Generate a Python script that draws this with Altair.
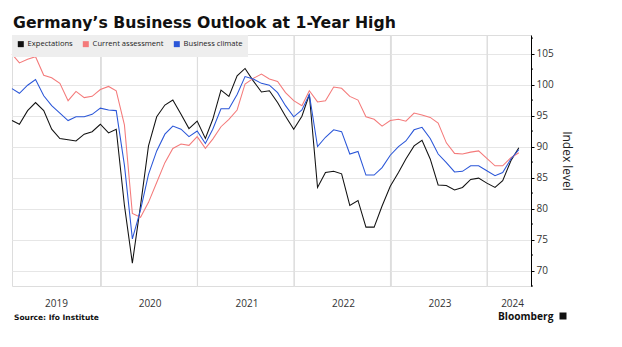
import altair as alt
import pandas as pd

# ---------------- data ----------------
months = pd.date_range("2019-01-31", periods=64, freq="ME").strftime("%Y-%m-%d").tolist()

expectations = [
    94.2, 93.6, 95.8, 97.1, 95.8, 92.8, 91.3, 91.1, 90.9, 92.0, 92.4, 93.6,
    92.2, 92.8, 80.5, 71.2, 80.5, 90.1, 94.8, 96.7, 97.5, 95.2, 92.9, 94.1,
    91.3, 94.4, 99.1, 98.1, 101.4, 102.6, 100.6, 98.8, 99.0, 97.1, 94.9, 92.8,
    94.9, 98.4, 83.4, 85.8, 86.0, 85.6, 80.5, 81.3, 77.0, 77.0, 80.4, 83.6,
    85.8, 88.0, 90.1, 91.0, 88.0, 83.8, 83.7, 83.0, 83.4, 84.7, 84.9, 84.1,
    83.4, 84.5, 87.7, 89.8,
]
current = [
    104.9, 103.5, 104.1, 104.5, 101.5, 101.1, 100.2, 97.4, 98.9, 97.9, 98.1, 99.2,
    99.7, 99.0, 93.5, 79.2, 78.6, 81.0, 84.2, 87.4, 89.7, 90.4, 90.2, 91.6,
    89.7, 91.2, 93.2, 94.4, 95.9, 100.1, 101.0, 101.7, 100.9, 100.5, 98.7, 97.4,
    96.6, 99.0, 97.2, 97.4, 99.6, 99.4, 98.1, 97.5, 94.8, 94.4, 93.3, 94.2,
    94.4, 94.1, 95.4, 95.1, 94.7, 93.8, 90.6, 88.9, 88.8, 89.1, 89.3, 88.1,
    86.9, 86.9, 88.2, 89.0,
]
climate = [
    99.35, 98.6, 99.9, 100.8, 98.2, 96.6, 95.4, 94.2, 94.8, 94.8, 95.2, 96.2,
    95.9, 95.8, 87.0, 75.1, 79.8, 85.5, 89.3, 92.0, 93.3, 92.8, 91.6, 92.5,
    90.5, 92.8, 96.1, 96.1, 98.4, 101.3, 100.9, 100.2, 99.9, 98.7, 96.6, 94.8,
    95.9, 98.4, 90.0, 91.5, 92.7, 92.4, 88.8, 89.2, 85.4, 85.4, 86.6, 88.6,
    90.0, 90.9, 92.7, 93.1, 91.3, 88.8, 87.4, 85.9, 86.0, 86.9, 86.9, 86.1,
    85.3, 85.8, 88.0, 89.5,
]

series_names = ["Expectations", "Current assessment", "Business climate"]
series_colors = ["#111111", "#f47a7a", "#2a56d8"]

# x ticks: first is the start of the visible range (label only), the rest are year starts
x_ticks = [(2019, 1, 31), (2020, 1, 1), (2021, 1, 1), (2022, 1, 1), (2023, 1, 1), (2024, 1, 1)]
year_starts = ["2020-01-01", "2021-01-01", "2022-01-01", "2023-01-01", "2024-01-01"]
y_ticks = [70, 75, 80, 85, 90, 95, 100, 105]
y_minor = [67.5, 72.5, 77.5, 82.5, 87.5, 92.5, 97.5, 102.5, 107.5]

title_text = "Germany\u2019s Business Outlook at 1-Year High"
source_text = "Source: Ifo Institute"
brand_text = "Bloomberg"

# ---------------- tables ----------------
df = pd.DataFrame({"date": months, "Expectations": expectations,
                   "Current assessment": current, "Business climate": climate})
long = df.melt("date", var_name="series", value_name="value")
long["order"] = long["series"].map({s: i for i, s in enumerate(series_names)})

W, H = 519, 251

xscale = alt.Scale(type="utc",
                   domain=[alt.DateTime(year=2019, month=1, date=31, utc=True),
                           alt.DateTime(year=2024, month=6, date=15, utc=True)])
xaxis = alt.Axis(
    values=[alt.DateTime(year=y, month=m, date=d, utc=True) for y, m, d in x_ticks],
    labelExpr="utcFormat(datum.value, '%Y')",
    grid=True, gridWidth=1,
    gridColor={"condition": {"test": "utcyear(datum.value) == 2019", "value": "transparent"},
               "value": "#e2e2e2"},
    labelOffset={"condition": [{"test": "utcyear(datum.value) == 2019", "value": 44},
                               {"test": "utcyear(datum.value) == 2024", "value": 25}],
                 "value": 49},
    labelFlush=False, labelOverlap=False, labelBound=False,
    ticks=False, domain=False,
    labelPadding=12, title=None, labelFontSize=10, labelColor="#333333",
    labelFont="Open Sans",
)

yscale = alt.Scale(domain=[67.5, 108], nice=False, zero=False)
yaxis = alt.Axis(orient="right", values=y_ticks, grid=True, gridColor="#e6e6e6",
                 domainColor="#000000", tickColor="#000000", tickSize=3,
                 labelPadding=2, labelFontSize=10, labelColor="#333333",
                 labelFont="Open Sans", title="Index level", titleFontSize=12,
                 titleFontWeight="normal", titleFont="Open Sans", titleColor="#222222",
                 titlePadding=6)

grid_v = alt.Chart(pd.DataFrame({"d": year_starts})).mark_rule(
    color="#dddddd", strokeWidth=1.2
).encode(
    x=alt.X("d:T", scale=xscale, axis=xaxis),
    y=alt.value(0), y2=alt.value(H),
)

lines = alt.Chart(long).mark_line(strokeWidth=1.05).encode(
    x=alt.X("date:T", scale=xscale, axis=xaxis),
    y=alt.Y("value:Q", scale=yscale, axis=yaxis),
    color=alt.Color(
        "series:N",
        scale=alt.Scale(domain=series_names, range=series_colors),
        legend=alt.Legend(
            orient="none", legendX=0, legendY=0, direction="horizontal", title=None,
            fillColor="#eeeeee", padding=5, symbolType="square", symbolSize=9,
            symbolStrokeWidth=3,
            labelFontSize=7.6, labelFont="Open Sans", labelColor="#222222",
            labelOffset=3, columnPadding=5,
        ),
    ),
    order=alt.Order("order:Q"),
)

minor = alt.Chart(pd.DataFrame({"v": y_minor})).mark_rule(color="#000000", strokeWidth=1).encode(
    y=alt.Y("v:Q", scale=yscale, axis=yaxis),
    x=alt.value(W), x2=alt.value(W + 2),
)

title = alt.Chart(pd.DataFrame({"t": [title_text]})).mark_text(
    align="left", baseline="alphabetic", font="DejaVu Sans", fontWeight="bold",
    fontSize=15.7, color="#111111"
).encode(text="t:N", x=alt.value(1), y=alt.value(-7))

source = alt.Chart(pd.DataFrame({"t": [source_text]})).mark_text(
    align="left", baseline="alphabetic", font="DejaVu Sans", fontWeight="bold",
    fontSize=7.5, color="#111111"
).encode(text="t:N", x=alt.value(2), y=alt.value(285))

brand = alt.Chart(pd.DataFrame({"t": [brand_text]})).mark_text(
    align="left", baseline="alphabetic", font="Open Sans", fontWeight="bold",
    fontSize=10.2, color="#111111"
).encode(text="t:N", x=alt.value(486), y=alt.value(285))

logo = alt.Chart(pd.DataFrame({"t": [brand_text]})).mark_square(
    size=49, color="#111111", opacity=1
).encode(x=alt.value(551), y=alt.value(281))

chart = alt.layer(grid_v, lines, minor, title, source, brand, logo).properties(
    width=W, height=H,
    padding={"left": 12, "top": 35, "right": 622 - 12 - W, "bottom": 347 - 35 - H},
    autosize=alt.AutoSizeParams(type="none"),
).configure_view(stroke=None).configure(background="white")

chart.save("out.html", embed_options={"renderer": "svg", "actions": False})
